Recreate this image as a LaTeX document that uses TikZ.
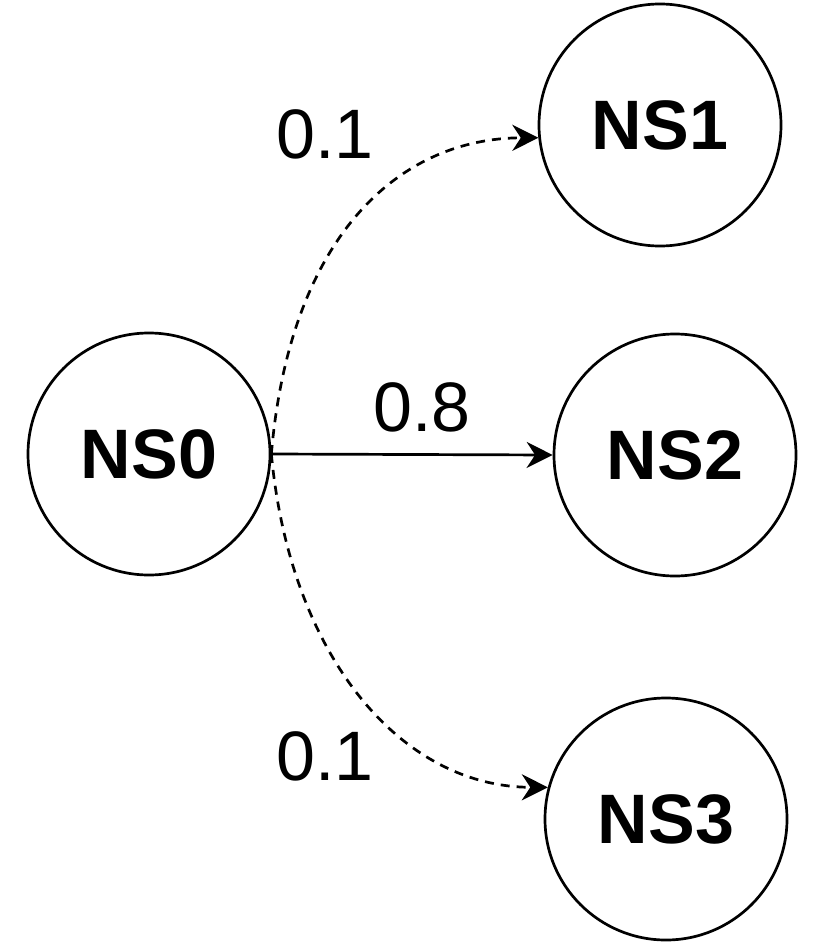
\documentclass[tikz,border=0pt]{standalone}
\usepackage{fontspec}
\setmainfont{Liberation Sans}
\usepackage{tikz}
\usetikzlibrary{arrows.meta}

\begin{document}
\begin{tikzpicture}[x=1pt,y=-1pt,>={Stealth[length=26pt,width=26pt]},line width=2.7pt,
   state/.style={draw,circle,minimum size=242pt,inner sep=0pt,font=\fontsize{70}{84}\selectfont\bfseries},
   prob/.style={font=\fontsize{70}{84}\selectfont},
   jump/.style={->,dash pattern=on 9pt off 7pt}]
  \useasboundingbox (0,0) rectangle (830,952);
  \node[state] (ns0) at (149,454) {NS0};
  \node[state] (ns1) at (660,125) {NS1};
  \node[state] (ns2) at (675,455) {NS2};
  \node[state] (ns3) at (666,819) {NS3};
  \node[prob] (w1) at (325,134) {0.1};
  \node[prob] (w2) at (422,407) {0.8};
  \node[prob] (w3) at (325,756) {0.1};
  \draw[->] (ns0.east) -- (ns2.west);
  \draw[jump] (ns0.east) .. controls (290,235) and (400,138) .. (ns1.186);
  \draw[jump] (ns0.east) .. controls (290,655) and (400,787) .. (ns3.165);
\end{tikzpicture}
\end{document}
